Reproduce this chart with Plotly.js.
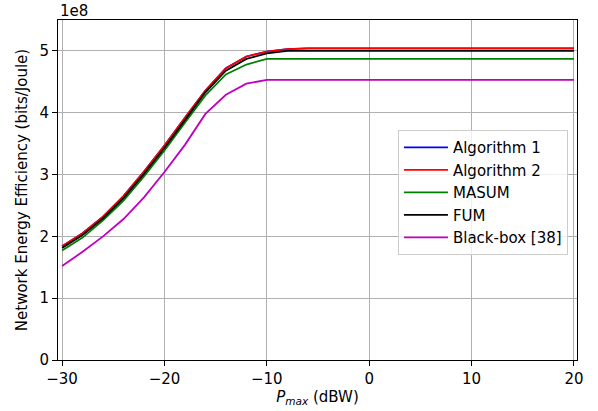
<!DOCTYPE html>
<html>
<head>
<meta charset="utf-8">
<script src="https://cdn.plot.ly/plotly-3.0.1.min.js"></script>
<style>
  html, body { margin: 0; padding: 0; background: #ffffff; }
  #chart { width: 598px; height: 411px; }
</style>
</head>
<body>
<div id="chart"></div>
<script>
// Maximum transmit power (dBW)
const pmax = [-30, -28, -26, -24, -22, -20, -18, -16, -14, -12, -10, -8, -6, -4, -2, 0, 2, 4, 6, 8, 10, 12, 14, 16, 18, 20];

// Network energy efficiency (bits/Joule)
const algorithm1 = [1.84e8, 2.05e8, 2.32e8, 2.65e8, 3.05e8, 3.47e8, 3.92e8, 4.36e8, 4.72e8, 4.91e8, 4.99e8, 5.03e8, 5.04e8, 5.04e8, 5.04e8, 5.04e8, 5.04e8, 5.04e8, 5.04e8, 5.04e8, 5.04e8, 5.04e8, 5.04e8, 5.04e8, 5.04e8, 5.04e8];
const algorithm2 = [1.84e8, 2.05e8, 2.32e8, 2.65e8, 3.05e8, 3.47e8, 3.92e8, 4.36e8, 4.72e8, 4.91e8, 4.99e8, 5.03e8, 5.04e8, 5.04e8, 5.04e8, 5.04e8, 5.04e8, 5.04e8, 5.04e8, 5.04e8, 5.04e8, 5.04e8, 5.04e8, 5.04e8, 5.04e8, 5.04e8];
const masum = [1.77e8, 1.98e8, 2.26e8, 2.58e8, 2.97e8, 3.39e8, 3.84e8, 4.28e8, 4.62e8, 4.78e8, 4.87e8, 4.87e8, 4.87e8, 4.87e8, 4.87e8, 4.87e8, 4.87e8, 4.87e8, 4.87e8, 4.87e8, 4.87e8, 4.87e8, 4.87e8, 4.87e8, 4.87e8, 4.87e8];
const fum = [1.81e8, 2.02e8, 2.29e8, 2.62e8, 3.01e8, 3.43e8, 3.88e8, 4.33e8, 4.68e8, 4.87e8, 4.96e8, 5.00e8, 5.00e8, 5.00e8, 5.00e8, 5.00e8, 5.00e8, 5.00e8, 5.00e8, 5.00e8, 5.00e8, 5.00e8, 5.00e8, 5.00e8, 5.00e8, 5.00e8];
const blackBox = [1.52e8, 1.75e8, 2.00e8, 2.28e8, 2.63e8, 3.04e8, 3.48e8, 3.98e8, 4.29e8, 4.47e8, 4.53e8, 4.53e8, 4.53e8, 4.53e8, 4.53e8, 4.53e8, 4.53e8, 4.53e8, 4.53e8, 4.53e8, 4.53e8, 4.53e8, 4.53e8, 4.53e8, 4.53e8, 4.53e8];

const seriesNames = ['Algorithm 1', 'Algorithm 2', 'MASUM', 'FUM', 'Black-box [38]'];
const seriesValues = [algorithm1, algorithm2, masum, fum, blackBox];
const seriesColors = ['#0000ff', '#ff0000', '#008000', '#000000', '#bf00bf'];

const xTicks = [-30, -20, -10, 0, 10, 20];
const yTicks = [0, 1e8, 2e8, 3e8, 4e8, 5e8];
const yTickText = ['0', '1', '2', '3', '4', '5'];

const font = 'DejaVu Sans, sans-serif';
const fs = 15;

const traces = seriesNames.map((name, i) => ({
  x: pmax,
  y: seriesValues[i],
  name: name,
  legendgroup: 'g' + i,
  type: 'scatter',
  mode: 'lines',
  line: { color: seriesColors[i], width: 1.8 }
}));

const layout = {
  width: 598,
  height: 411,
  margin: { l: 58, r: 21, t: 20, b: 51 },
  paper_bgcolor: '#ffffff',
  plot_bgcolor: '#ffffff',
  font: { family: font, size: fs, color: '#000000' },
  showlegend: true,
  legend: {
    x: 0.655, y: 0.676, xanchor: 'left', yanchor: 'top',
    bgcolor: 'rgba(255,255,255,0.8)',
    bordercolor: '#cccccc', borderwidth: 1,
    font: { family: font, size: fs, color: '#000000' },
    itemwidth: 44,
    tracegroupgap: 0
  },
  xaxis: {
    range: [-30.4, 20.3],
    tickmode: 'array', tickvals: xTicks,
    showgrid: true, gridcolor: '#b0b0b0', gridwidth: 1,
    zeroline: false,
    showline: true, linecolor: '#000000', linewidth: 1, mirror: true,
    ticks: 'outside', ticklen: 5, tickcolor: '#000000',
    tickfont: { family: font, size: fs },
    title: { text: '<i>P</i><sub><i>max</i></sub> (dBW)', font: { family: font, size: fs }, standoff: 4 }
  },
  yaxis: {
    range: [0, 5.5e8],
    tickmode: 'array', tickvals: yTicks, ticktext: yTickText,
    showgrid: true, gridcolor: '#b0b0b0', gridwidth: 1,
    zeroline: false,
    showline: true, linecolor: '#000000', linewidth: 1, mirror: true,
    ticks: 'outside', ticklen: 5, tickcolor: '#000000',
    tickfont: { family: font, size: fs },
    title: { text: 'Network Energy Efficiency (bits/Joule)', font: { family: font, size: fs }, standoff: 8 }
  },
  annotations: [{
    text: '1e8', xref: 'paper', yref: 'paper', x: 0, y: 1,
    xanchor: 'left', yanchor: 'bottom', yshift: -2, showarrow: false,
    font: { family: font, size: fs, color: '#000000' }
  }]
};

Plotly.newPlot('chart', traces, layout, { displayModeBar: false, staticPlot: true });
</script>
</body>
</html>
